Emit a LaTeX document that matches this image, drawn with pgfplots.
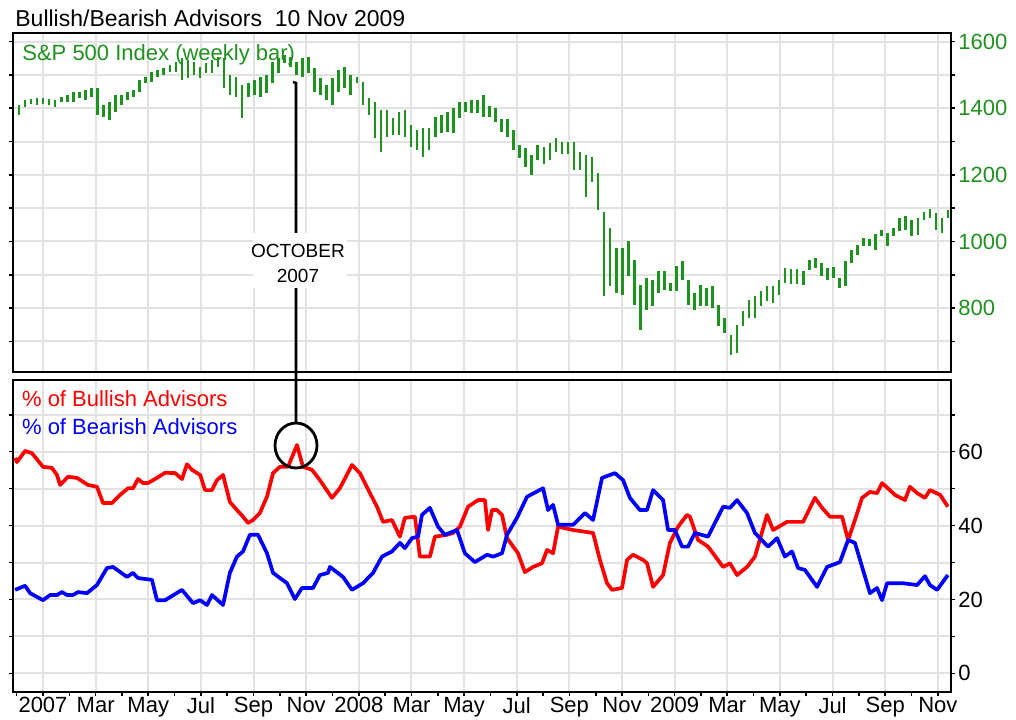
\documentclass[border=0pt]{standalone}
\usepackage{pgfplots}
\usepackage{pgfplotstable}
\pgfplotsset{compat=1.18}
\usepackage{fontspec}
\setmainfont{Liberation Sans}
\definecolor{spgreen}{RGB}{30,145,30}
\definecolor{gridgray}{RGB}{226,226,226}

\pgfplotstableread{
lo hi
1380 1410
1405 1425
1413 1428
1410 1430
1413 1430
1410 1428
1405 1425
1420 1435
1420 1440
1420 1450
1430 1450
1425 1455
1435 1460
1380 1460
1375 1410
1365 1420
1390 1440
1410 1440
1425 1450
1435 1455
1450 1485
1475 1495
1480 1510
1495 1515
1500 1520
1510 1530
1510 1540
1485 1550
1490 1545
1500 1540
1490 1525
1505 1535
1505 1545
1525 1555
1460 1550
1440 1500
1435 1495
1370 1470
1435 1475
1440 1485
1435 1495
1445 1500
1475 1540
1505 1550
1535 1560
1525 1555
1500 1540
1495 1550
1505 1555
1450 1520
1440 1490
1425 1470
1410 1490
1450 1515
1460 1525
1440 1500
1475 1495
1410 1480
1380 1430
1310 1420
1270 1395
1315 1395
1320 1370
1320 1390
1315 1395
1285 1350
1275 1335
1255 1340
1275 1340
1315 1375
1325 1380
1330 1390
1325 1400
1370 1420
1390 1420
1385 1425
1387 1425
1375 1440
1375 1407
1360 1400
1330 1367
1313 1367
1275 1335
1252 1290
1223 1280
1200 1260
1245 1290
1233 1283
1245 1295
1270 1310
1263 1300
1263 1300
1215 1300
1215 1270
1135 1260
1180 1255
1095 1205
835 1090
865 1040
845 980
840 980
895 1000
810 945
735 870
795 890
805 885
845 910
855 910
850 875
850 925
885 940
810 885
795 845
805 870
805 860
800 865
745 810
725 770
660 720
665 750
745 790
770 825
770 835
805 850
820 865
815 865
840 885
875 920
873 917
873 917
870 910
915 945
920 950
895 935
885 920
890 923
860 890
865 940
935 973
960 990
985 1010
985 1007
975 1023
1015 1035
985 1025
1015 1040
1030 1070
1035 1075
1015 1065
1020 1070
1065 1090
1070 1097
1035 1085
1025 1070
1070 1095
}\spdata

\pgfplotsset{
  panel/.style={
    scale only axis, width=469pt, xmin=-1.14, xmax=34.5,
    axis line style={line width=1pt,black},
    tick align=outside,
    major tick length=2pt, minor tick length=2pt,
    tick style={black, line width=0.8pt},
    major grid style={gridgray, line width=1pt},
    minor grid style={gridgray, line width=1pt},
    xtick={0,2,...,34},
    xmajorgrids, ymajorgrids, yminorgrids,
    yticklabel pos=right, ytick pos=both,
    /pgf/number format/1000 sep={},
    /pgf/number format/assume math mode=true,
    tick label style={font=\fontsize{11}{13}\selectfont},
    yticklabel style={anchor=west, inner sep=0pt, xshift=1.5pt},
  }
}

\begin{document}
\begin{tikzpicture}
\path[use as bounding box] (0,0) rectangle (508pt,-359.5pt);

\begin{axis}[panel, at={(6.5pt,-16.5pt)}, anchor=north west, height=169.5pt,
  ymin=608, ymax=1626, ytick={800,1000,...,1600}, minor ytick={700,900,...,1500},
  xticklabels={}, xtick style={draw=none},
  yticklabel style={text=spgreen}]
\addplot[draw=none, mark=none,
  error bars/.cd, y dir=plus, y explicit, error mark=none,
  error bar style={draw=spgreen, line width=1.3pt}]
  table[x expr=-0.912+0.2292*\coordindex, y=lo, y error expr=\thisrow{hi}-\thisrow{lo}] {\spdata};
\end{axis}

\begin{axis}[panel, at={(6.5pt,-190pt)}, anchor=north west, height=156pt,
  ymin=-5.06, ymax=79.4, ytick={0,20,40,60}, minor ytick={10,30,50,70},
  xticklabels={2007,Mar,May,Jul,Sep,Nov,2008,Mar,May,Jul,Sep,Nov,2009,Mar,May,Jul,Sep,Nov},
  minor xtick={-1,1,...,33}, xtick pos=bottom,
  xticklabel style={inner sep=0pt, anchor=north, yshift=-0.5pt}]
\addplot[red, line width=1.85pt, line join=round] coordinates {
(-1.06,58.3) (-0.99,57.2) (-0.68,60.2) (-0.42,59.6) (0,55.9) (0.34,55.6) (0.53,53.7) (0.65,51.0) (0.95,53.2) (1.29,52.9) (1.71,51.0) (2.05,50.5) (2.28,46.1) (2.62,46.1) (2.93,48.3) (3.23,50.1) (3.42,50.1) (3.61,52.6) (3.80,51.5) (3.99,51.5) (4.33,52.9) (4.64,54.3) (5.02,54.2) (5.28,52.6) (5.47,56.6) (5.66,55.1) (5.97,53.7) (6.16,49.6) (6.42,49.6) (6.61,52.3) (6.84,53.7) (7.10,46.4) (7.37,44.2) (7.60,42.4) (7.79,40.7) (7.98,41.5) (8.24,43.4) (8.51,47.8) (8.74,54.2) (9.00,55.9) (9.31,55.9) (9.65,61.8) (9.88,55.9) (10.22,55.1) (10.52,52.3) (10.98,47.5) (11.28,50.1) (11.74,56.4) (12.04,54.2) (12.42,48.8) (12.69,45.1) (12.92,41.0) (13.26,41.5) (13.56,37.0) (13.75,42.1) (14.13,42.4) (14.32,31.6) (14.70,31.6) (14.89,37.0) (15.35,37.5) (15.58,38.0) (15.84,39.7) (16.15,45.1) (16.53,46.9) (16.79,46.9) (16.91,38.8) (17.06,44.2) (17.25,44.2) (17.44,42.9) (17.63,36.6) (18.05,32.5) (18.31,27.4) (18.62,28.8) (18.96,29.8) (19.15,33.4) (19.38,32.5) (19.57,39.7) (20.14,38.8) (20.90,38.0) (21.16,30.7) (21.43,24.4) (21.62,22.6) (22.00,23.1) (22.19,30.7) (22.42,32.1) (22.80,30.7) (22.95,29.8) (23.18,23.4) (23.56,26.6) (23.82,35.3) (24.13,39.7) (24.47,42.9) (24.58,42.4) (24.89,36.1) (25.27,34.3) (25.84,28.8) (26.10,29.8) (26.37,26.6) (26.75,28.8) (27.05,31.6) (27.51,42.9) (27.74,38.8) (28.27,41.0) (28.88,41.0) (29.33,47.5) (29.60,44.8) (29.90,42.4) (30.36,42.4) (30.59,36.1) (30.85,41.5) (31.12,47.5) (31.42,49.1) (31.69,48.8) (31.88,51.5) (32.10,50.1) (32.37,48.3) (32.75,46.9) (32.94,50.5) (33.21,48.8) (33.51,47.5) (33.70,49.6) (34.09,48.3) (34.38,45.1)
};
\addplot[blue, line width=1.85pt, line join=round] coordinates {
(-1.06,22.6) (-0.68,23.7) (-0.49,21.7) (0,19.8) (0.27,21.2) (0.53,21.2) (0.72,22.0) (0.91,21.2) (1.14,21.2) (1.33,22.0) (1.67,21.7) (2.05,23.9) (2.43,28.5) (2.66,28.8) (3.19,26.1) (3.42,27.2) (3.61,25.8) (4.14,25.3) (4.33,19.8) (4.64,19.8) (5.28,22.6) (5.70,19.0) (5.97,19.8) (6.23,18.5) (6.42,21.2) (6.84,18.5) (7.10,27.2) (7.37,31.6) (7.60,33.0) (7.86,37.5) (8.17,37.5) (8.51,32.5) (8.74,27.2) (9.27,24.4) (9.57,20.1) (9.84,23.1) (10.26,23.1) (10.52,26.6) (10.83,27.2) (10.90,28.8) (11.40,26.1) (11.74,22.6) (12.16,24.4) (12.54,27.2) (12.88,31.6) (13.26,33.0) (13.56,35.3) (13.75,33.9) (14.02,36.6) (14.25,37.0) (14.40,42.9) (14.70,44.8) (15.01,39.7) (15.27,37.5) (15.73,38.8) (16.03,32.5) (16.41,30.1) (16.87,32.1) (17.10,31.6) (17.44,32.5) (17.63,37.5) (18.01,42.1) (18.39,47.8) (19.00,50.1) (19.19,44.2) (19.38,45.6) (19.57,40.2) (20.14,40.2) (20.59,43.4) (20.90,41.5) (21.24,52.9) (21.73,54.2) (22.04,52.3) (22.30,47.5) (22.68,44.2) (22.95,44.2) (23.18,49.6) (23.56,46.9) (23.75,38.8) (24.01,38.8) (24.28,34.3) (24.51,34.3) (24.77,38.0) (25.27,37.0) (25.84,45.1) (26.10,44.8) (26.37,46.9) (26.75,43.4) (27.05,38.0) (27.55,34.3) (27.89,36.6) (28.19,31.6) (28.46,33.0) (28.69,28.5) (28.95,28.0) (29.41,23.4) (29.79,28.8) (30.28,30.1) (30.59,36.1) (30.85,35.3) (31.42,21.7) (31.69,23.1) (31.88,19.8) (32.07,24.4) (32.67,24.4) (33.21,23.9) (33.51,26.3) (33.70,23.9) (33.97,22.6) (34.38,26.6)
};
\end{axis}

% title and in-panel labels
\node[anchor=base west, inner sep=0pt, font=\fontsize{11.5}{13}\selectfont] at (7.5pt,-13.35pt) {Bullish/Bearish Advisors\ \ 10 Nov 2009};
\node[anchor=base west, inner sep=0pt, text=spgreen, font=\fontsize{11}{13}\selectfont] at (11pt,-30pt) {S\&P 500 Index (weekly bar)};
\node[anchor=base west, inner sep=0pt, text=red, font=\fontsize{11}{13}\selectfont] at (10.85pt,-203pt) {\% of Bullish Advisors};
\node[anchor=base west, inner sep=0pt, text=blue, font=\fontsize{11}{13}\selectfont] at (10.85pt,-217pt) {\% of Bearish Advisors};

% callout
\draw[black, line width=1.3pt] (146.5pt,-41pt) -- (148pt,-41.5pt) -- (148pt,-211.5pt);
\draw[black, line width=1.4pt] (148pt,-222.75pt) ellipse [x radius=10.5pt, y radius=11.25pt];
\fill[white] (126.5pt,-116.5pt) rectangle (173.5pt,-144pt);
\node[anchor=base, inner sep=0pt, font=\fontsize{9.5}{11}\selectfont] at (149pt,-128.5pt) {OCTOBER};
\node[anchor=base, inner sep=0pt, font=\fontsize{9.5}{11}\selectfont] at (149pt,-141pt) {2007};
\end{tikzpicture}
\end{document}
